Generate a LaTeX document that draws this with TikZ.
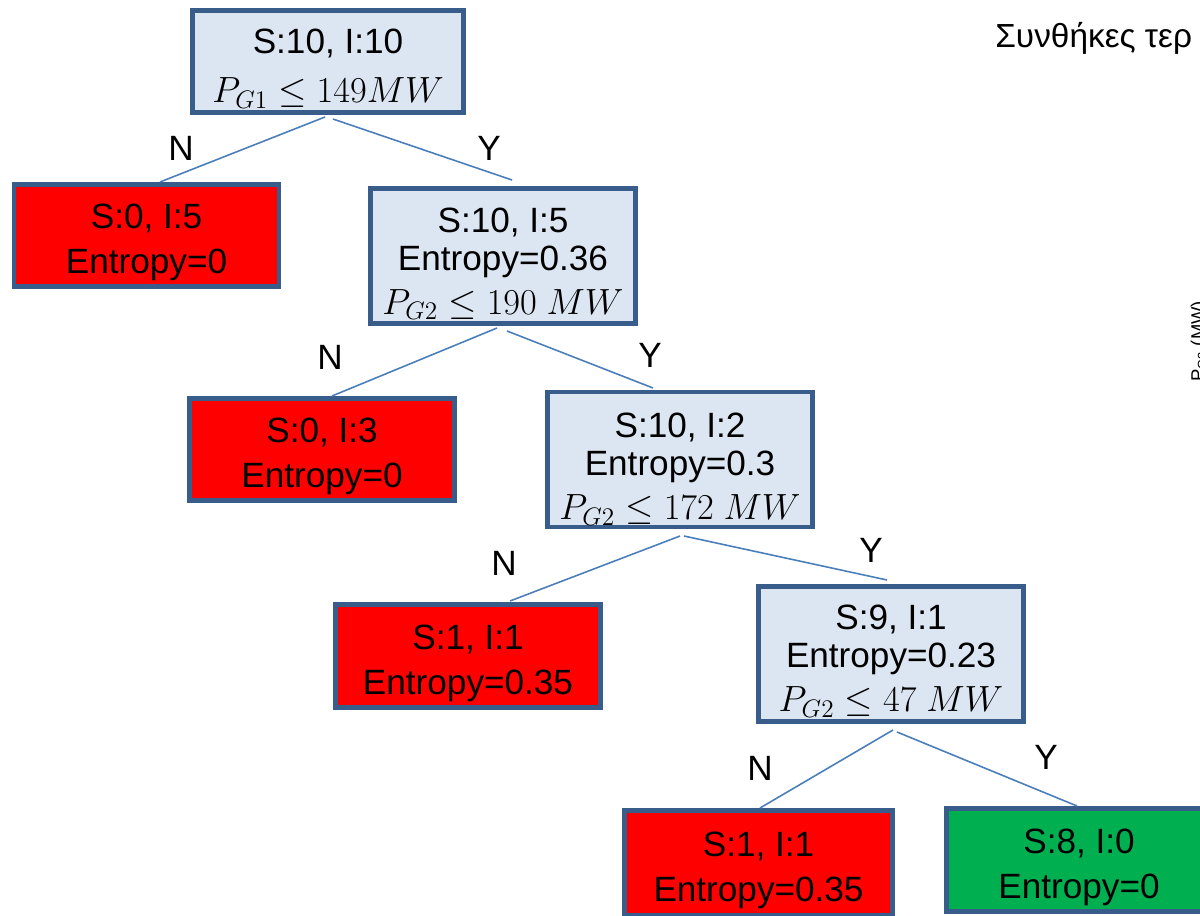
\documentclass[tikz,border=0pt]{standalone}
\usepackage{fontspec}
\setmainfont{Liberation Sans}
\definecolor{boxfill}{RGB}{220,230,242}
\definecolor{boxline}{RGB}{56,93,138}
\definecolor{edgeblue}{RGB}{74,126,187}
\definecolor{leafred}{RGB}{255,0,0}
\definecolor{leafgreen}{RGB}{0,176,80}
\newcommand{\toplift}[1]{\rule{0pt}{#1}}
\begin{document}
\begin{tikzpicture}[x=0.02cm,y=-0.02cm,
  basebox/.style={draw=boxline,line width=2.8pt,inner sep=0pt,align=center,
    font=\fontsize{20}{24}\selectfont},
  splitbox/.style={basebox,fill=boxfill,minimum width=5.30cm,minimum height=2.70cm},
  rootbox/.style={basebox,fill=boxfill,minimum width=5.42cm,minimum height=2.04cm,
    font=\fontsize{20}{28}\selectfont},
  redleaf/.style={basebox,fill=leafred,minimum width=5.30cm,minimum height=2.05cm,
    font=\fontsize{20}{25.6}\selectfont},
  greenleaf/.style={basebox,fill=leafgreen,minimum width=5.30cm,minimum height=2.05cm,
    font=\fontsize{20}{25.6}\selectfont},
  edge/.style={draw=edgeblue,line width=0.9pt},
  lbl/.style={font=\fontsize{20}{24}\selectfont,inner sep=0pt}]
\useasboundingbox (0,0) rectangle (1200,916);

% nodes
\node[rootbox] (root) at (328,61.5) {\toplift{22pt}S:10, I:10\\$P_{G1}\leq 149MW$};
\node[redleaf] (l1) at (146.5,235.5) {\toplift{22pt}S:0, I:5\\Entropy=0};
\node[splitbox] (b2) at (503,256) {\toplift{23pt}S:10, I:5\\[-2.4pt]Entropy=0.36\\[1pt]$P_{G2}\leq 190\ MW$};
\node[redleaf] (l2) at (322,449.5) {\toplift{22pt}S:0, I:3\\Entropy=0};
\node[splitbox] (b3) at (680,459.5) {\toplift{25pt}S:10, I:2\\[-2.4pt]Entropy=0.3\\[1pt]$P_{G2}\leq 172\ MW$};
\node[redleaf] (l3) at (468,656) {\toplift{22pt}S:1, I:1\\Entropy=0.35};
\node[splitbox] (b4) at (891,654) {\toplift{22pt}S:9, I:1\\[-2.4pt]Entropy=0.23\\[1pt]$P_{G2}\leq 47\ MW$};
\node[redleaf,minimum width=5.36cm,minimum height=2.10cm] (l4) at (758.5,863) {\toplift{22pt}S:1, I:1\\Entropy=0.35};
\node[greenleaf] (l5) at (1079,860) {\toplift{22pt}S:8, I:0\\Entropy=0};

% connector end points
\coordinate (r1) at (325,117);
\coordinate (r2) at (333,119);
\coordinate (l1t) at (160,182);
\coordinate (b2t) at (512,180);
\coordinate (b2a) at (497,328);
\coordinate (b2b) at (507,331);
\coordinate (l2t) at (332,396);
\coordinate (b3t) at (653,388);
\coordinate (b3a) at (680,536);
\coordinate (b3b) at (684,536);
\coordinate (l3t) at (510,601);
\coordinate (b4t) at (887,580);
\coordinate (b4a) at (893,730);
\coordinate (b4b) at (897,732);
\coordinate (l4t) at (760,808);
\coordinate (l5t) at (1077,806);

\draw[edge] (r1) -- (l1t);
\draw[edge] (r2) -- (b2t);
\draw[edge] (b2a) -- (l2t);
\draw[edge] (b2b) -- (b3t);
\draw[edge] (b3a) -- (l3t);
\draw[edge] (b3b) -- (b4t);
\draw[edge] (b4a) -- (l4t);
\draw[edge] (b4b) -- (l5t);

% edge labels
\node[lbl] (n1) at (181,148) {N};
\node[lbl] (y1) at (489,148) {Y};
\node[lbl] (n2) at (330,357) {N};
\node[lbl] (y2) at (650,355) {Y};
\node[lbl] (n3) at (504,563) {N};
\node[lbl] (y3) at (871,550) {Y};
\node[lbl] (n4) at (760,768) {N};
\node[lbl] (y4) at (1046,757) {Y};

% texts at the right edge (cut off in the reference)
\node[anchor=base west,inner sep=0pt,font=\fontsize{19}{22}\selectfont] (title) at (995,47) {Συνθήκες τερ};
\node[anchor=base west,inner sep=0pt,rotate=90,font=\fontsize{10.5}{12}\selectfont] (axis) at (1204,382) {P\textsubscript{G2} (MW)};
\end{tikzpicture}
\end{document}
